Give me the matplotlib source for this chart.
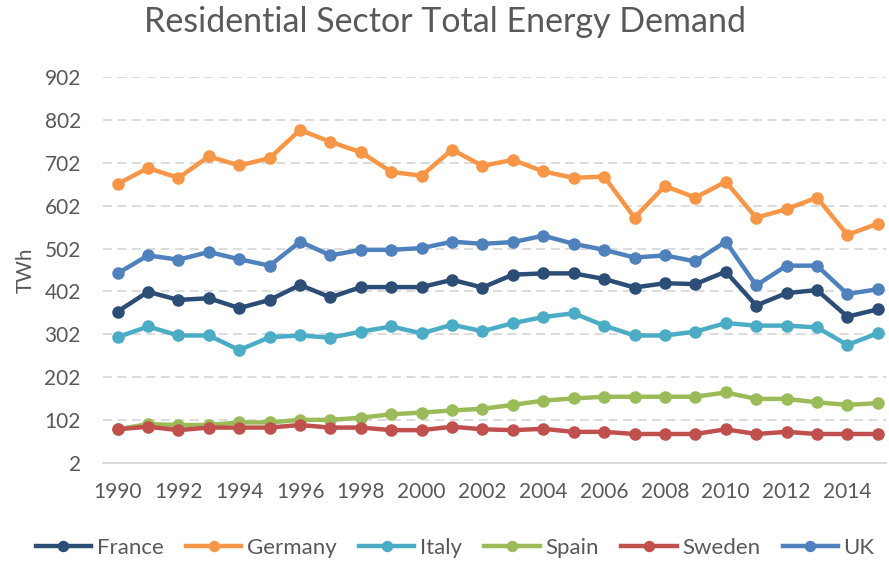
import numpy as np
import matplotlib
matplotlib.use("Agg")
import matplotlib.pyplot as plt

years = list(range(1990, 2016))

france = [355, 401, 382, 386, 363, 382, 417, 388, 412, 412, 412, 429, 411,
          441, 444, 444, 431, 411, 421, 419, 448, 369, 398, 405, 343, 360]
germany = [653, 690, 667, 717, 696, 713, 779, 751, 727, 681, 672, 733, 695,
           709, 682, 667, 670, 574, 648, 621, 658, 574, 594, 621, 534, 560]
italy = [295, 320, 299, 299, 265, 295, 299, 294, 308, 320, 304, 324, 309,
         328, 342, 351, 322, 299, 299, 308, 328, 322, 322, 318, 277, 304]
spain = [80, 92, 90, 90, 96, 96, 102, 102, 107, 115, 119, 124, 128,
         137, 147, 152, 156, 156, 156, 156, 166, 151, 151, 143, 137, 141]
sweden = [80, 86, 78, 84, 84, 84, 90, 84, 84, 78, 78, 86, 80,
          78, 81, 74, 74, 69, 69, 69, 80, 69, 74, 69, 69, 69]
uk = [444, 486, 476, 494, 477, 462, 518, 486, 499, 499, 503, 518, 513,
      517, 532, 513, 499, 481, 486, 472, 518, 416, 462, 462, 396, 407]

series = [("France", france, "#2C4D75"),
          ("Germany", germany, "#F79646"),
          ("Italy", italy, "#4BACC6"),
          ("Spain", spain, "#9BBB59"),
          ("Sweden", sweden, "#C0504D"),
          ("UK", uk, "#4F81BD")]

yticks = list(range(2, 903, 100))
xticks = list(range(1990, 2015, 2))

plt.rcParams['font.family'] = ['Lato', 'DejaVu Sans']
txt = "#595959"

fig = plt.figure(figsize=(8.89, 5.62), dpi=100)
ax = fig.add_axes([0.1159, 0.1767, 0.8807, 0.6859])

for name, vals, col in series:
    ax.plot(years, vals, color=col, lw=3.2, marker="o", ms=8, label=name)

ax.set_xlim(1989.52, 2015.27)
ax.set_ylim(2, 902)
ax.set_yticks(yticks)
ax.set_xticks(xticks)
ax.tick_params(axis="both", length=0, labelsize=15, colors=txt)
ax.tick_params(axis="y", pad=16)
ax.tick_params(axis="x", pad=14)
ax.yaxis.grid(True, color="#D9D9D9", ls=(0, (5, 3)), lw=1.3)
ax.set_axisbelow(True)
for s in ["top", "right", "left"]:
    ax.spines[s].set_visible(False)
ax.spines["bottom"].set_color("#D9D9D9")
ax.spines["bottom"].set_linewidth(1.3)

ax.set_ylabel("TWh", fontsize=15, color=txt, labelpad=6)
fig.suptitle("Residential Sector Total Energy Demand", fontsize=24.5,
             color=txt, y=0.99)

fig.legend(loc="center", ncol=6, frameon=False, fontsize=16,
           bbox_to_anchor=(0.512, 14 / 562), handlelength=2.5,
           columnspacing=1.0, handletextpad=0.25, markerscale=0.9,
           borderpad=0, labelcolor=txt)

fig.savefig("out.png", dpi=100)
